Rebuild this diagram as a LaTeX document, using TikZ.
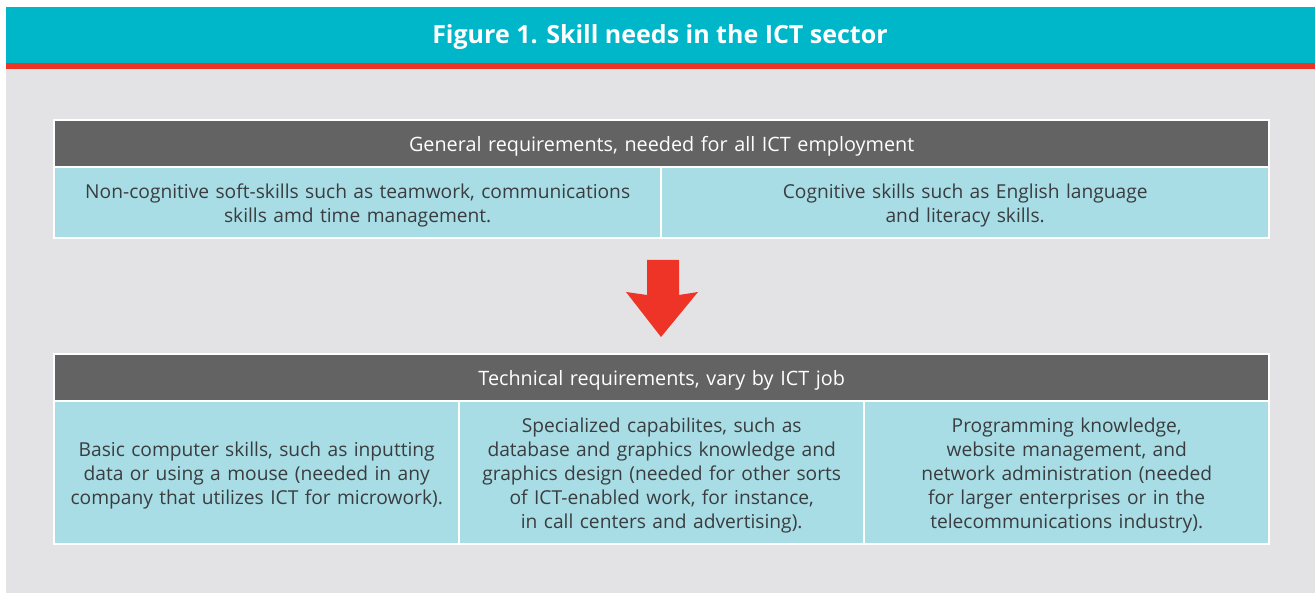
\documentclass[tikz,border=0pt]{standalone}
\usepackage{fontspec}
\setmainfont{Open Sans}
\usetikzlibrary{positioning}
\definecolor{ictteal}{HTML}{00B6C9}
\definecolor{ictred}{HTML}{EE3427}
\definecolor{ictgray}{HTML}{E3E3E5}
\definecolor{ictdark}{HTML}{636364}
\definecolor{ictcyan}{HTML}{A8DDE5}
\definecolor{icttext}{HTML}{3A3D40}

\begin{document}
\begin{tikzpicture}[x=1pt,y=-1pt,
    cell/.style={fill=ictcyan, text=icttext, inner sep=0pt, align=center,
      anchor=north west, font=\fontsize{19.2}{24}\selectfont,
      execute at begin node={\rule{0pt}{21pt}}},
    headrow/.style={fill=ictdark, text=white, inner sep=0pt, anchor=north west,
      text width=1213pt, align=center, minimum height=45pt,
      font=\fontsize{19.8}{24}\selectfont, execute at begin node={\rule{0pt}{21pt}}},
    frame/.style={fill=white}]
  \useasboundingbox (0,0) rectangle (1315,593);
  % background and title band
  \fill[ictgray] (6,7) rectangle (1315,593);
  \fill[ictteal] (6,7) rectangle (1315,63);
  \fill[ictred] (6,63) rectangle (1315,69);
  \node[text=white, font=\fontsize{25}{28}\selectfont\bfseries] (title) at (660,37)
    {Figure 1. Skill needs in the ICT sector};

  % general requirements
  \fill[frame] (53,119) rectangle (1270,239);
  \node[headrow] (general) at (55,121) {General requirements, needed for all ICT employment};
  \node[cell, text width=605pt, minimum height=69pt] (noncog) at (55,168)
    {Non-cognitive soft-skills such as teamwork, communications\\ skills amd time management.};
  \node[cell, text width=606pt, minimum height=69pt] (cog) at (662,168)
    {Cognitive skills such as English language\\ and literacy skills.};

  % arrow
  \fill[ictred] (647,260) -- (679,260) -- (679,295) -- (698,292) -- (661,337)
    -- (626,292) -- (647,295) -- cycle;

  % technical requirements
  \fill[frame] (53,353) rectangle (1270,545);
  \node[headrow] (technical) at (55,355) {Technical requirements, vary by ICT job};
  \node[cell, text width=403pt, minimum height=141pt] (basic) at (55,402)
    {Basic computer skills, such as inputting\\ data or using a mouse (needed in any\\ company that utilizes ICT for microwork).};
  \node[cell, text width=403pt, minimum height=141pt] (special) at (460,402)
    {Specialized capabilites, such as\\ database and graphics knowledge and\\ graphics design (needed for other sorts\\ of ICT-enabled work, for instance,\\ in call centers and advertising).};
  \node[cell, text width=403pt, minimum height=141pt] (program) at (865,402)
    {Programming knowledge,\\ website management, and\\ network administration (needed\\ for larger enterprises or in the\\ telecommunications industry).};
\end{tikzpicture}
\end{document}
